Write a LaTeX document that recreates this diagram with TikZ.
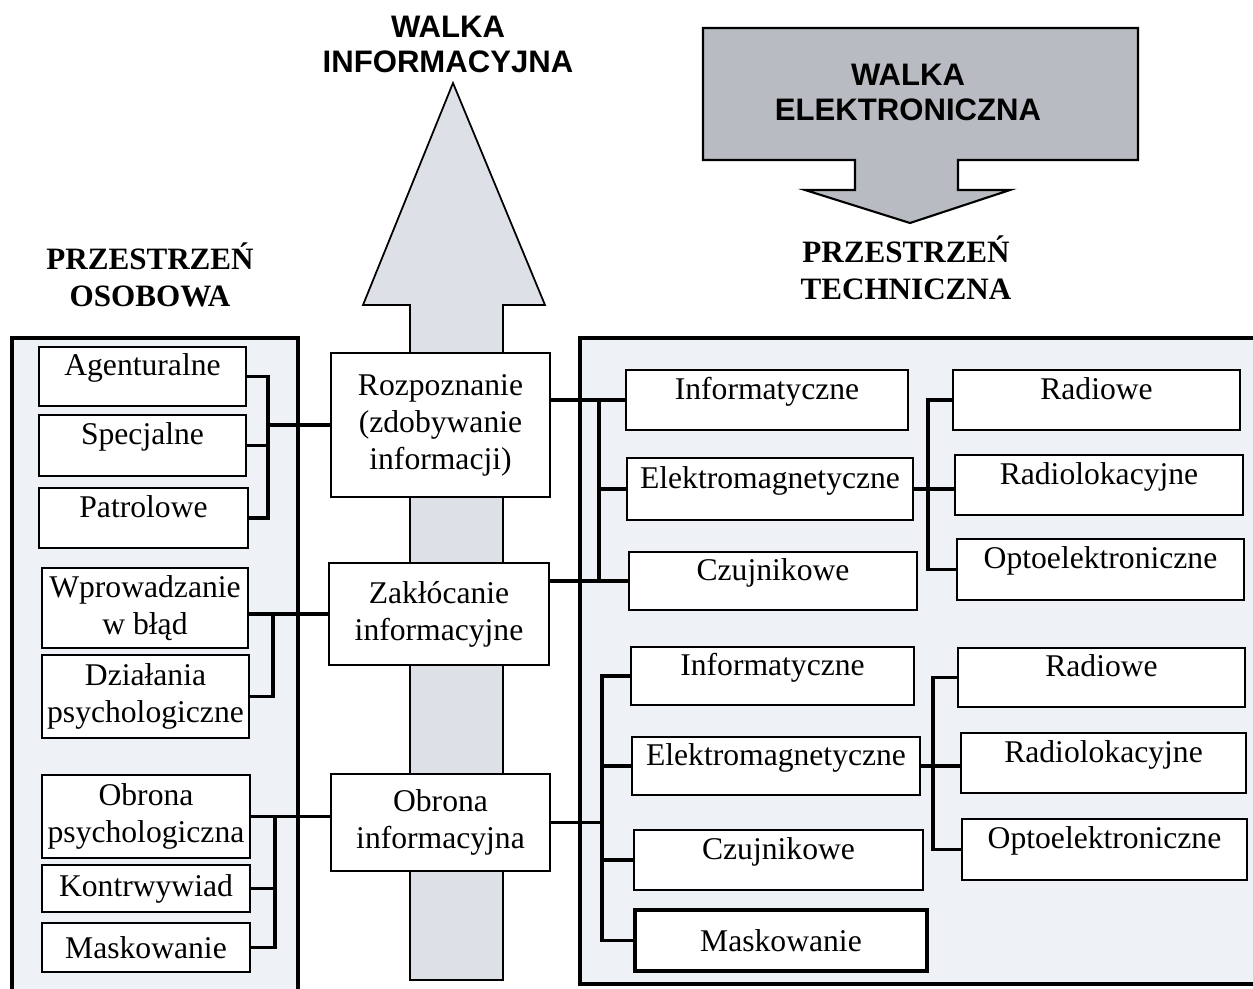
\documentclass[tikz,border=0pt]{standalone}
\usepackage{fontspec}
\setmainfont{Liberation Serif}
\newfontfamily\hdsans{Liberation Sans}
\definecolor{panelbg}{HTML}{EEF1F6}
\definecolor{arrowbg}{HTML}{DDE0E7}
\definecolor{ewbg}{HTML}{B8BBC1}
% rectangular node given by its corners: options, name, x1, y1, x2, y2, text
\newcommand\rectnode[7]{\node[#1, minimum width={(#5-#3)*0.02cm}, minimum height={(#6-#4)*0.02cm}] (#2) at ({(#3+#5)/2},{(#4+#6)/2}) {#7};}
\begin{document}
\begin{tikzpicture}[x=0.02cm,y=-0.02cm,
  box/.style={draw=black, line width=1.1pt, fill=white, inner sep=0pt,
    font=\fontsize{18}{21}\selectfont, align=center},
  one/.style={text height=0.42em, text depth=0.48em},
  conn/.style={line width=1.8pt},
  panel/.style={draw=black, line width=2.4pt, fill=panelbg},
  head/.style={font=\bfseries\fontsize{17.7}{21}\selectfont, align=center},
  sanshead/.style={font=\hdsans\bfseries\fontsize{17.7}{19.8}\selectfont, align=center}]
\useasboundingbox (0,0) rectangle (1253,988);
\clip (0,0) rectangle (1253,988);

% the two spaces
\draw[panel] (12,338) rectangle (298,1005);
\draw[panel] (580,338) rectangle (1270,984);

% upward arrow of information warfare
\filldraw[fill=arrowbg, line width=1pt, line join=miter]
  (453,83) -- (545,305) -- (503,305) -- (503,980) -- (410,980) -- (410,305) -- (363,305) -- cycle;

% electronic warfare block with its downward arrow
\filldraw[fill=ewbg, line width=1.2pt, line join=miter]
  (703,28) -- (1138,28) -- (1138,160) -- (958,160) -- (958,190) -- (1010,190)
  -- (910,223) -- (805,190) -- (855,190) -- (855,160) -- (703,160) -- cycle;

% headings
\node[sanshead] (wi) at (448,44.5) {WALKA\\INFORMACYJNA};
\node[sanshead] (we) at (908,92.5) {WALKA\\ELEKTRONICZNA};
\node[head] (po) at (150,274.5) {PRZESTRZEŃ\\OSOBOWA};
\node[head] (pt) at (906,267.5) {PRZESTRZEŃ\\TECHNICZNA};

% personal space
\rectnode{box,one}{agent}{39}{347}{246}{406}{Agenturalne}
\rectnode{box,one}{spec}{39}{415}{246}{476}{Specjalne}
\rectnode{box,one}{patr}{39}{488}{248}{548}{Patrolowe}
\rectnode{box}{wpr}{42}{568}{248}{648}{Wprowadzanie\\w błąd}
\rectnode{box}{dzial}{42}{655}{249}{738}{Działania\\psychologiczne}
\rectnode{box}{obps}{42}{775}{250}{858}{Obrona\\psychologiczna}
\rectnode{box}{kontr}{42}{865}{250}{912}{Kontrwywiad}
\rectnode{box}{maskL}{42}{923}{250}{972}{Maskowanie}

% central activities
\rectnode{box}{rozp}{331}{353}{550}{497}{Rozpoznanie\\(zdobywanie\\informacji)}
\rectnode{box}{zakl}{329}{563}{549}{665}{Zakłócanie\\informacyjne}
\rectnode{box}{obinf}{331}{774}{550}{871}{Obrona\\informacyjna}

% technical space
\rectnode{box,one}{inf1}{626}{370}{908}{430}{Informatyczne}
\rectnode{box,one}{em1}{627}{458}{913}{520}{Elektromagnetyczne}
\rectnode{box,one}{czu1}{629}{552}{917}{610}{Czujnikowe}
\rectnode{box,one}{inf2}{631}{647}{914}{705}{Informatyczne}
\rectnode{box,one}{em2}{632}{737}{920}{795}{Elektromagnetyczne}
\rectnode{box,one}{czu2}{634}{830}{923}{890}{Czujnikowe}
\rectnode{box,line width=2pt}{maskR}{635}{910}{927}{971}{Maskowanie}
\rectnode{box,one}{radio1}{953}{370}{1240}{430}{Radiowe}
\rectnode{box,one}{radlok1}{955}{455}{1243}{515}{Radiolokacyjne}
\rectnode{box,one}{opto1}{957}{539}{1244}{600}{Optoelektroniczne}
\rectnode{box,one}{radio2}{958}{648}{1245}{707}{Radiowe}
\rectnode{box,one}{radlok2}{961}{733}{1246}{793}{Radiolokacyjne}
\rectnode{box,one}{opto2}{962}{819}{1247}{880}{Optoelektroniczne}

% bus lines
\coordinate (xL1) at (268,0);
\coordinate (xL2) at (273,0);
\coordinate (xL3) at (275,0);
\coordinate (xR1) at (599,0);
\coordinate (xR2) at (602,0);
\coordinate (xRR1) at (928,0);
\coordinate (xRR2) at (933,0);

% connectors on the personal side
\draw[conn] (agent.east) -- (agent.east -| xL1) |- (patr.east);
\draw[conn] (spec.east) -- (spec.east -| xL1);
\draw[conn] (rozp.west) -- (rozp.west -| xL1);
\draw[conn] (zakl.west) -- (zakl.west -| wpr.east);
\draw[conn] (zakl.west -| xL2) |- (dzial.east);
\draw[conn] (obinf.west |- obps.east) -- (obps.east);
\draw[conn] (obps.east -| xL3) |- (maskL.east);
\draw[conn] (kontr.east) -- (kontr.east -| xL3);

% connectors on the technical side
\draw[conn] (rozp.east |- inf1.west) -- (inf1.west);
\draw[conn] (inf1.west -| xR1) |- (czu1.west);
\draw[conn] (em1.west) -- (em1.west -| xR1);
\draw[conn] (zakl.east |- czu1.west) -- (czu1.west -| xR1);
\draw[conn] (obinf.east) -- (obinf.east -| xR2);
\draw[conn] (inf2.west) -- (inf2.west -| xR2) |- (maskR.west);
\draw[conn] (em2.west) -- (em2.west -| xR2);
\draw[conn] (czu2.west) -- (czu2.west -| xR2);
\draw[conn] (em1.east) -- (em1.east -| radlok1.west);
\draw[conn] (radio1.west) -- (radio1.west -| xRR1) |- (opto1.west);
\draw[conn] (em2.east) -- (em2.east -| radlok2.west);
\draw[conn] (radio2.west) -- (radio2.west -| xRR2) |- (opto2.west);
\end{tikzpicture}
\end{document}
